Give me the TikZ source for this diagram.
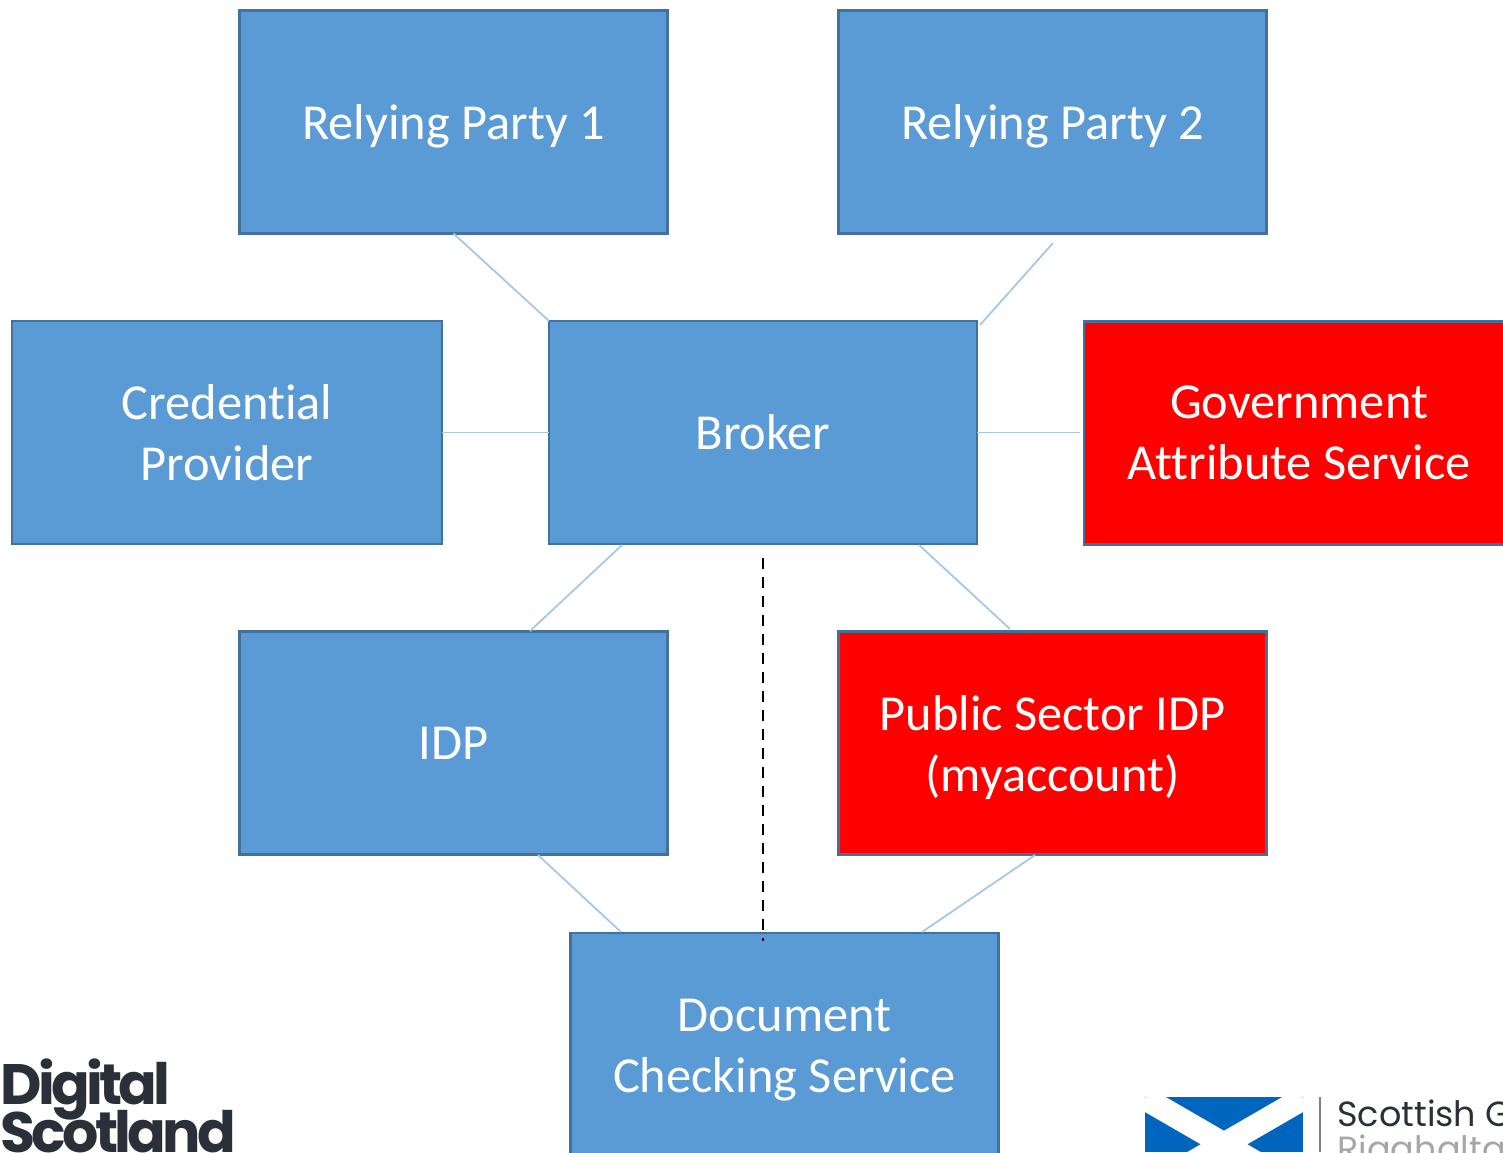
\documentclass[tikz,border=0pt]{standalone}
\usepackage{fontspec}
\usepackage{xcolor}
\setmainfont[Ligatures=NoCommon]{Carlito}
\newfontfamily\logofont[LetterSpace=-6.5]{Poppins}
\newfontfamily\govfont{Poppins}
\definecolor{boxblue}{HTML}{5B9BD5}
\definecolor{boxedge}{HTML}{41719C}
\definecolor{linkblue}{HTML}{A5C8E8}
\definecolor{logodark}{HTML}{2B3038}
\definecolor{flagblue}{HTML}{0065BD}
\begin{document}
\begin{tikzpicture}[
  x=0.5pt, y=-0.5pt,
  party/.style={rectangle, draw=boxedge, fill=boxblue, line width=1.2pt, minimum width=214pt, minimum height=111.5pt, outer sep=0pt, align=center, text=white, font=\fontsize{25.2}{30.5}\selectfont},
  redparty/.style={party, fill=red},
  nodepth/.style={text depth=0pt},
  link/.style={draw=linkblue, line width=0.9pt},
  logodig/.style={anchor=base west, inner sep=0pt, text=logodark, font=\logofont\bfseries\fontsize{28.5}{30}\selectfont},
  logogov/.style={anchor=base west, inner sep=0pt, font=\govfont\fontsize{17.5}{20}\selectfont}
]
  \useasboundingbox (0,0) rectangle (1503,1152);

  % Boxes
  \node[party, nodepth] (rp1) at (453.5, 122) {Relying Party 1};
  \node[party, nodepth] (rp2) at (1052.5, 122) {Relying Party 2};
  \node[party, minimum width=215pt] (cred) at (227, 432.5) {Credential\\Provider};
  \node[party] (broker) at (763, 432.5) {Broker};
  \node[redparty, minimum width=215pt] (gov) at (1299, 433) {Government\\Attribute Service};
  \node[party] (idp) at (453.5, 743) {IDP};
  \node[redparty, nodepth] (psidp) at (1052.5, 743) {Public Sector IDP\\(myaccount)};
  \node[party, nodepth, minimum height=113pt] (docs) at (784.5, 1046) {Document\\Checking Service};

  % Free ends of the links
  \coordinate (rp2foot) at (1053, 243);
  \coordinate (brokerne) at (980, 325);
  \coordinate (brokerbl) at (622, 545);
  \coordinate (brokerbr) at (919, 545);
  \coordinate (brokerbm) at (763, 558);
  \coordinate (govleft) at (1080, 432.5);
  \coordinate (idptop) at (530, 631);
  \coordinate (idpfoot) at (538, 855);
  \coordinate (pstop) at (1010, 629);
  \coordinate (psfoot) at (1035, 855);
  \coordinate (docsl) at (621, 932);
  \coordinate (docsr) at (922, 932);
  \coordinate (docsm) at (763, 941);

  % Links
  \draw[link] (rp1.south) -- (broker.north west);
  \draw[link] (rp2foot) -- (brokerne);
  \draw[link] (cred.east) -- (broker.west);
  \draw[link] (broker.east) -- (govleft);
  \draw[link] (brokerbl) -- (idptop);
  \draw[link] (brokerbr) -- (pstop);
  \draw[link] (idpfoot) -- (docsl);
  \draw[link] (psfoot) -- (docsr);
  \draw[black, line width=1.4pt, dash pattern=on 5.5pt off 4pt] (brokerbm) -- (docsm);

  % Digital Scotland logo
  \node[logodig] (digital) at (0, 1104) {Digital};
  \node[logodig] (scotland) at (0, 1152) {Scotland};

  % Scottish Government logo
  \begin{scope}
    \clip (1145,1097) rectangle (1303,1152);
    \fill[flagblue] (1145,1097) rectangle (1303,1152);
    \draw[white, line width=11.7pt] (1145,1098.5) -- (1303,1190);
    \draw[white, line width=11.7pt] (1303,1098.5) -- (1145,1190);
  \end{scope}
  \draw[gray, line width=1.2pt] (1320,1097) -- (1320,1152);
  \node[logogov, text=logodark] (scotgov) at (1337, 1126) {Scottish G};
  \node[logogov, text=gray!70] (riag) at (1337, 1161) {Riaghalta};
\end{tikzpicture}
\end{document}
